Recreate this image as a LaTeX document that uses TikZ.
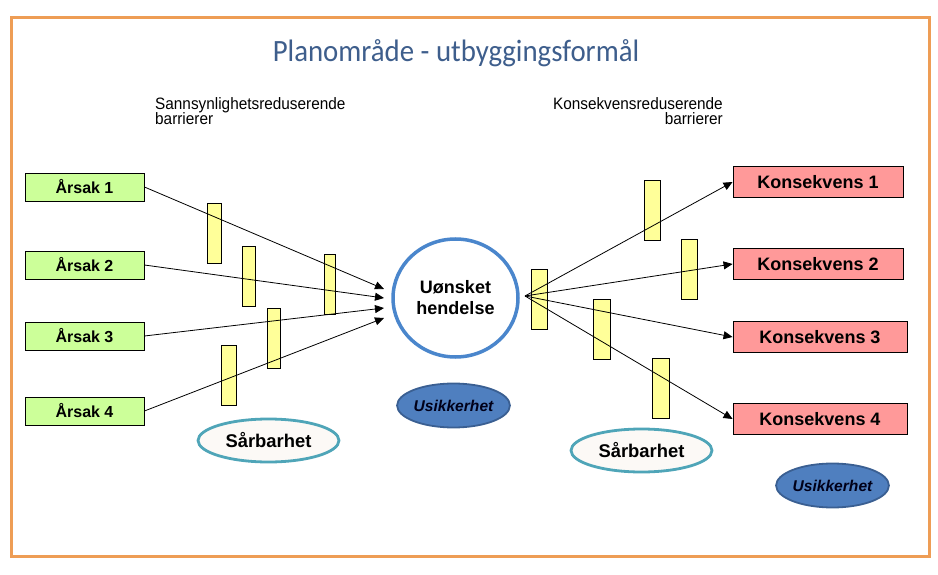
\documentclass[tikz,border=0pt]{standalone}
\usepackage{fontspec}
\setmainfont{Liberation Sans}
\newfontfamily\titlefont{Carlito}
\usetikzlibrary{arrows.meta,shapes.geometric}
\definecolor{frameor}{HTML}{EE9D55}
\definecolor{titleblue}{HTML}{3E5E8C}
\definecolor{causegreen}{HTML}{CCFF99}
\definecolor{baryellow}{HTML}{FFFF99}
\definecolor{conspink}{HTML}{FF9999}
\definecolor{circblue}{HTML}{4A86CC}
\definecolor{uncfill}{HTML}{4F7FBF}
\definecolor{uncborder}{HTML}{3A5F92}
\definecolor{vulnborder}{HTML}{4FA5B8}
\definecolor{vulnfill}{HTML}{FCF9F6}
\tikzset{
  causebox/.style={draw=black, line width=0.9pt, fill=causegreen, minimum width=119pt, minimum height=28pt, inner sep=0pt, font=\fontsize{16}{18}\selectfont\bfseries},
  consbox/.style={draw=black, line width=0.9pt, fill=conspink, minimum height=31pt, inner sep=0pt, font=\fontsize{18}{20}\selectfont\bfseries},
  barbox/.style={draw=black, line width=0.8pt, fill=baryellow, minimum width=15pt, minimum height=60pt, inner sep=0pt},
  conn/.style={line width=0.8pt, -{Triangle[length=9pt,width=8pt]}},
  vuln/.style={ellipse, draw=vulnborder, line width=2.8pt, fill=vulnfill, minimum width=141pt, minimum height=43pt, inner sep=0pt, font=\fontsize{18.4}{20}\selectfont\bfseries},
  unc/.style={ellipse, draw=uncborder, line width=1.8pt, fill=uncfill, minimum width=106pt, minimum height=44pt, inner sep=0pt, text=black!90!blue, font=\fontsize{15.6}{18}\selectfont\bfseries\itshape},
  subtxt/.style={inner sep=0pt, font=\fontsize{16.5}{18}\selectfont}
}
\begin{document}
\begin{tikzpicture}[x=1pt,y=-1pt]
\useasboundingbox (0,0) rectangle (938,575);
\draw[frameor, line width=3pt] (11,18) rectangle (929,556);
% title
\node[text=titleblue, inner sep=0pt, anchor=base] (title) at (456,62) {\scalebox{0.93}[1]{\titlefont\fontsize{31}{34}\selectfont Planområde - utbyggingsformål}};
% subtitles
\node[subtxt, anchor=base west] (sl1) at (155,110) {\scalebox{0.93}[1]{Sannsynlighetsreduserende}};
\node[subtxt, anchor=base west] (sl2) at (155,125) {\scalebox{0.93}[1]{barrierer}};
\node[subtxt, anchor=base east] (sr1) at (723,110) {\scalebox{0.93}[1]{Konsekvensreduserende}};
\node[subtxt, anchor=base east] (sr2) at (723,125) {\scalebox{0.93}[1]{barrierer}};
% causes
\node[causebox] (a1) at (84.5,187) {Årsak 1};
\node[causebox] (a2) at (84.5,265) {Årsak 2};
\node[causebox] (a3) at (84.5,336) {Årsak 3};
\node[causebox] (a4) at (84.5,411) {Årsak 4};
% consequences
\node[consbox, minimum width=170pt] (k1) at (818,182) {Konsekvens 1};
\node[consbox, minimum width=170pt] (k2) at (818,264) {Konsekvens 2};
\node[consbox, minimum width=174pt] (k3) at (820,337) {Konsekvens 3};
\node[consbox, minimum width=174pt] (k4) at (820,419) {Konsekvens 4};
% left barriers
\node[barbox, minimum width=14pt] (b1) at (214,233) {};
\node[barbox, minimum width=13pt] (b2) at (248.5,276.5) {};
\node[barbox, minimum width=11pt] (b3) at (329.5,284) {};
\node[barbox, minimum width=13pt] (b4) at (273.5,338) {};
\node[barbox, minimum width=15pt] (b5) at (228.5,375.5) {};
% event
\node[ellipse, draw=circblue, line width=3.5pt, fill=white, minimum width=125pt, minimum height=118pt, inner sep=0pt, align=center, font=\fontsize{18}{21}\selectfont\bfseries] (ev) at (455.5,298) {Uønsket\\hendelse};
\coordinate (t1) at (384,289);
\coordinate (t2) at (384,298);
\coordinate (t3) at (384,308);
\coordinate (t4) at (384,318);
\coordinate (o) at (525,296);
% right barriers
\node[barbox, minimum width=16pt] (c0) at (539.5,299) {};
\node[barbox, minimum width=16pt] (c1) at (652,210.5) {};
\node[barbox, minimum width=16pt] (c2) at (689,269) {};
\node[barbox, minimum width=17pt] (c3) at (601.5,329) {};
\node[barbox, minimum width=17pt] (c4) at (660.5,388) {};
% connectors
\draw[conn] (a1.east) -- (t1);
\draw[conn] (a2.east) -- (t2);
\draw[conn] (a3.east) -- (t3);
\draw[conn] (a4.east) -- (t4);
\draw[conn] (o) -- (k1.west);
\draw[conn] (o) -- (k2.west);
\draw[conn] (o) -- (k3.west);
\draw[conn] (o) -- (k4.west);
% vulnerability / uncertainty
\node[vuln] (v1) at (268.5,440.5) {Sårbarhet};
\node[vuln] (v2) at (641.5,450.5) {Sårbarhet};
\node[unc] (u1) at (453.5,405.5) {Usikkerhet};
\node[unc] (u2) at (832.5,485.5) {Usikkerhet};
\end{tikzpicture}
\end{document}
